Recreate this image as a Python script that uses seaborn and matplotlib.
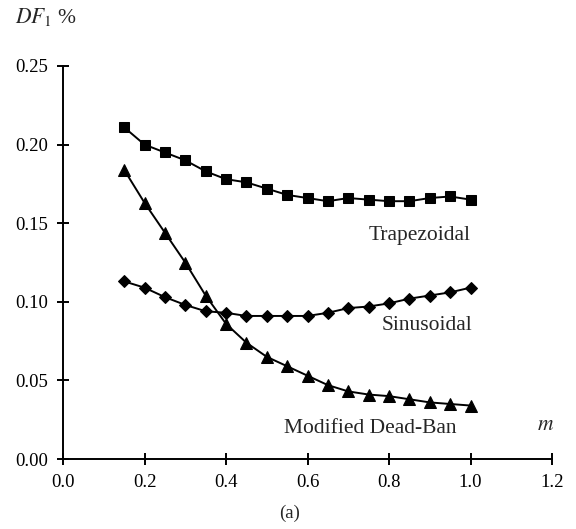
import matplotlib
matplotlib.use("Agg")
import matplotlib.pyplot as plt
import seaborn as sns
import pandas as pd
import numpy as np

m_values = [0.15, 0.20, 0.25, 0.30, 0.35, 0.40, 0.45, 0.50, 0.55,
            0.60, 0.65, 0.70, 0.75, 0.80, 0.85, 0.90, 0.95, 1.00]
trapezoidal = [0.211, 0.200, 0.195, 0.190, 0.183, 0.178, 0.176, 0.172, 0.168,
               0.166, 0.164, 0.166, 0.165, 0.164, 0.164, 0.166, 0.167, 0.165]
sinusoidal = [0.113, 0.109, 0.103, 0.098, 0.094, 0.093, 0.091, 0.091, 0.091,
              0.091, 0.093, 0.096, 0.097, 0.099, 0.102, 0.104, 0.106, 0.109]
modified_dead_ban = [0.184, 0.163, 0.144, 0.125, 0.104, 0.086, 0.074, 0.065, 0.059,
                     0.053, 0.047, 0.043, 0.041, 0.040, 0.038, 0.036, 0.035, 0.034]
series_names = ["Trapezoidal", "Sinusoidal", "Modified Dead-Ban"]
x_ticks = [0.0, 0.2, 0.4, 0.6, 0.8, 1.0, 1.2]
y_ticks = [0.00, 0.05, 0.10, 0.15, 0.20, 0.25]

df = pd.DataFrame({
    "m": m_values * 3,
    "DF": trapezoidal + sinusoidal + modified_dead_ban,
    "series": [series_names[0]] * len(m_values) + [series_names[1]] * len(m_values)
              + [series_names[2]] * len(m_values),
})

sns.set_style("ticks")
plt.rcParams["font.family"] = ["Liberation Serif", "DejaVu Serif"]
plt.rcParams["mathtext.fontset"] = "stix"

fig = plt.figure(figsize=(5.76, 5.29), dpi=100)
ax = fig.add_axes([63 / 576, 1 - 459 / 529, (552 - 63) / 576, (459 - 66) / 529])

markers = {"Trapezoidal": "s", "Sinusoidal": "D", "Modified Dead-Ban": "^"}
sizes = {"Trapezoidal": 7.8, "Sinusoidal": 6.0, "Modified Dead-Ban": 8.2}
for name in series_names:
    sub = df[df["series"] == name]
    sns.lineplot(data=sub, x="m", y="DF", ax=ax, color="black", linewidth=1.4,
                 marker=markers[name], markersize=sizes[name],
                 markeredgecolor="black", markerfacecolor="black", legend=False)

ax.set_xlim(0, 1.2)
ax.set_ylim(0, 0.25)
ax.set_xticks(x_ticks)
ax.set_yticks(y_ticks)
ax.set_xticklabels([f"{v:.1f}" for v in x_ticks])
ax.set_yticklabels([f"{v:.2f}" for v in y_ticks])
ax.set_xlabel("")
ax.set_ylabel("")
for s in ["top", "right"]:
    ax.spines[s].set_visible(False)
for s in ["left", "bottom"]:
    ax.spines[s].set_linewidth(1.4)
    ax.spines[s].set_color("black")
ax.tick_params(axis="both", direction="inout", length=9, width=1.4,
               labelsize=13.5, colors="black", pad=6)

ax.text(1.0, 0.142, "Trapezoidal", ha="right", va="center", fontsize=15.5)
ax.text(1.005, 0.085, "Sinusoidal", ha="right", va="center", fontsize=15.5)
ax.text(0.965, 0.0195, "Modified Dead-Ban", ha="right", va="center", fontsize=15.5)
ax.text(1.185, 0.021, "$m$", ha="center", va="center", fontsize=15.5)

fig.text(15 / 576, 1 - 17 / 529, "$DF_1$ %", ha="left", va="center", fontsize=15.5)
fig.text(290 / 576, 1 - 513 / 529, "(a)", ha="center", va="center", fontsize=13.5)

fig.savefig("out.png", dpi=100)
